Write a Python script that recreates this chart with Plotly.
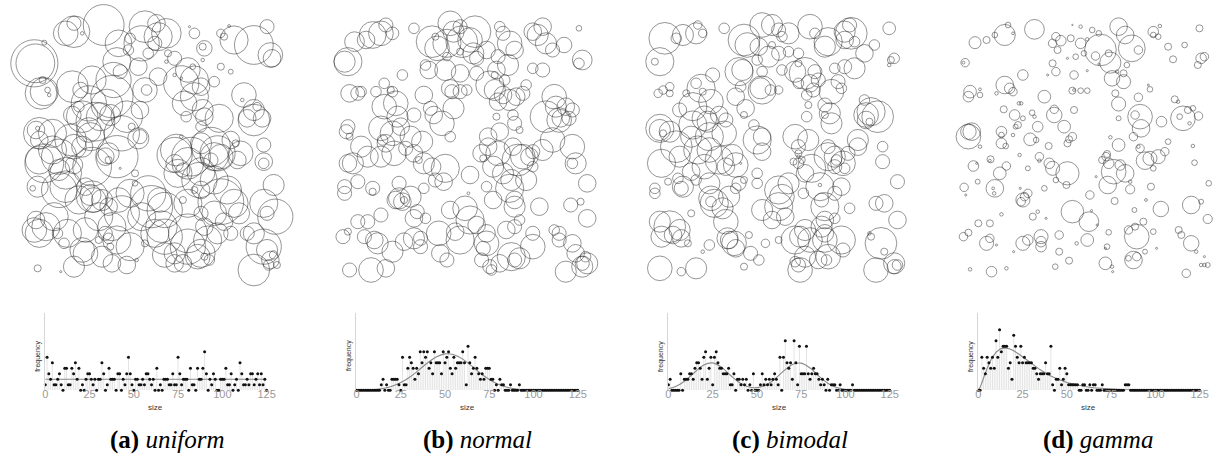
import plotly.graph_objects as go

W, H = 1222, 455

# ---------------- histogram data (frequency per size 0..125) ----------------
sizes = list(range(126))

freq_uniform = [
    1, 6, 3, 2, 5, 1, 1, 2, 3, 1,
    0, 4, 4, 1, 1, 4, 3, 5, 2, 4,
    0, 1, 0, 2, 3, 3, 2, 1, 2, 0,
    2, 2, 5, 3, 0, 1, 4, 2, 2, 2,
    0, 3, 3, 0, 2, 1, 3, 6, 3, 1,
    0, 2, 2, 1, 1, 2, 1, 3, 3, 2,
    1, 2, 0, 4, 0, 1, 0, 2, 2, 2,
    1, 1, 3, 1, 1, 6, 3, 1, 2, 2,
    2, 0, 4, 1, 1, 0, 4, 2, 2, 4,
    7, 3, 0, 2, 1, 3, 2, 0, 0, 2,
    2, 2, 4, 1, 1, 3, 0, 1, 2, 0,
    5, 3, 1, 1, 2, 1, 3, 3, 1, 2,
    3, 1, 3, 1, 2, 0]

freq_normal = [
    0, 0, 0, 0, 0, 0, 0, 0, 0, 0,
    0, 0, 0, 0, 1, 2, 0, 1, 0, 0,
    2, 2, 2, 2, 1, 0, 6, 1, 1, 4,
    6, 5, 4, 2, 4, 3, 7, 5, 7, 6,
    7, 4, 5, 3, 7, 5, 5, 5, 3, 7,
    5, 6, 7, 4, 3, 6, 4, 5, 5, 5,
    7, 5, 1, 8, 5, 3, 4, 6, 4, 3,
    2, 3, 2, 4, 4, 4, 2, 2, 0, 1,
    0, 2, 1, 1, 0, 0, 0, 1, 0, 0,
    0, 0, 1, 0, 0, 0, 0, 0, 0, 0,
    0, 0, 0, 0, 0, 0, 0, 0, 0, 0,
    0, 0, 0, 0, 0, 0, 0, 0, 0, 0,
    0, 0, 0, 0, 0, 0]

freq_bimodal = [
    1, 2, 0, 0, 0, 0, 0, 3, 0, 2,
    2, 2, 3, 3, 2, 4, 5, 5, 4, 2,
    6, 7, 2, 4, 6, 1, 6, 7, 5, 4,
    4, 3, 3, 3, 4, 1, 1, 3, 0, 2,
    2, 1, 2, 1, 2, 0, 1, 0, 3, 0,
    0, 0, 1, 3, 1, 2, 1, 2, 1, 2,
    3, 2, 1, 6, 0, 6, 9, 5, 4, 5,
    2, 9, 5, 1, 8, 3, 3, 3, 8, 3,
    2, 3, 4, 3, 3, 2, 1, 2, 1, 0,
    2, 0, 1, 1, 1, 0, 0, 1, 0, 0,
    0, 0, 0, 0, 1, 0, 0, 0, 0, 0,
    0, 0, 0, 0, 0, 0, 0, 0, 0, 0,
    0, 0, 0, 0, 0, 0]

freq_gamma = [
    0, 0, 6, 4, 3, 6, 5, 4, 6, 4,
    9, 6, 11, 7, 8, 8, 8, 4, 5, 2,
    10, 8, 6, 5, 8, 5, 6, 5, 5, 5,
    5, 4, 4, 3, 2, 3, 3, 3, 5, 3,
    3, 8, 1, 0, 2, 2, 4, 1, 2, 4,
    3, 1, 1, 1, 1, 1, 1, 0, 0, 1,
    1, 0, 0, 1, 0, 1, 1, 0, 0, 0,
    1, 0, 0, 0, 0, 0, 0, 0, 0, 0,
    0, 0, 0, 1, 1, 1, 0, 0, 0, 0,
    0, 0, 0, 0, 0, 0, 0, 0, 0, 0,
    0, 0, 0, 0, 0, 0, 0, 0, 0, 0,
    0, 0, 0, 0, 0, 0, 0, 0, 0, 0,
    0, 0, 0, 0, 0, 0]

# expected-frequency curves
curve_uniform_x = [0, 125]
curve_uniform_y = [2.0, 2.0]
curve_step_x = [0, 5, 10, 15, 20, 25, 30, 35, 40, 45, 50, 55, 60, 65, 70,
                75, 80, 85, 90, 95, 100, 105, 110, 115, 120, 125]
curve_normal_y = [0.02, 0.05, 0.14, 0.34, 0.74, 1.4, 2.37, 3.63, 4.96, 6.05,
                  6.62, 6.47, 5.67, 4.43, 3.1, 1.95, 1.09, 0.55, 0.25, 0.1,
                  0.04, 0.01, 0, 0, 0, 0]
curve_bimodal_y = [0.28, 0.82, 1.88, 3.33, 4.62, 4.98, 4.18, 2.73, 1.41, 0.64,
                   0.49, 0.94, 2.01, 3.48, 4.7, 4.94, 4.05, 2.58, 1.28, 0.5,
                   0.15, 0.04, 0.01, 0, 0, 0]
curve_gamma_x = [0, 1, 2, 3, 5, 7.5, 10, 12.5, 15, 17.5, 20, 25, 30, 35, 40,
                 45, 50, 55, 60, 65, 70, 75, 80, 90, 100, 110, 125]
curve_gamma_y = [0, 0.54, 1.38, 2.29, 4.03, 5.77, 6.92, 7.53, 7.71, 7.57, 7.2,
                 6.1, 4.87, 3.72, 2.75, 1.99, 1.42, 0.99, 0.69, 0.47, 0.32,
                 0.21, 0.14, 0.06, 0.025, 0.01, 0]

tick_vals = [0, 25, 50, 75, 100, 125]
captions = [("a", "uniform"), ("b", "normal"), ("c", "bimodal"), ("d", "gamma")]

# ---------------- circle layouts: (x, y, radius) in panel units ----------------
circles_uniform = [
    (215, 95, 45), (190, 100, 35), (215, 70, 20), (240, 100, 5), (305, 75, 58),
    (350, 130, 38), (430, 80, 45), (420, 130, 50), (470, 110, 40), (465, 70, 25),
    (495, 100, 42), (460, 130, 20), (385, 115, 15), (380, 150, 15), (440, 160, 15),
    (500, 160, 10), (565, 80, 3), (580, 100, 15), (610, 145, 22), (605, 140, 10),
    (660, 100, 12), (670, 110, 10), (685, 78, 4), (700, 120, 40), (760, 135, 55),
    (800, 80, 20), (810, 165, 35), (815, 175, 25), (660, 200, 10), (690, 215, 7),
    (125, 128, 7), (95, 190, 67), (98, 190, 55), (115, 280, 45), (120, 240, 10),
    (125, 275, 40), (135, 270, 8), (140, 285, 5), (210, 260, 45), (235, 270, 22),
    (230, 320, 15), (270, 240, 40), (335, 240, 50), (345, 185, 40), (355, 215, 20),
    (410, 200, 25), (430, 270, 35), (435, 270, 15), (415, 330, 25), (330, 290, 60),
    (315, 315, 45), (260, 310, 50), (240, 350, 45), (210, 345, 25), (295, 350, 40),
    (280, 365, 55), (325, 345, 30), (375, 350, 45), (360, 400, 50), (390, 380, 10),
    (415, 410, 20), (410, 415, 30), (105, 385, 6), (110, 400, 45), (100, 390, 25),
    (110, 420, 25), (150, 400, 40), (150, 450, 40), (205, 420, 45), (215, 440, 35),
    (260, 390, 35), (265, 410, 40), (240, 440, 30), (125, 490, 55), (110, 480, 40),
    (170, 470, 50), (190, 520, 45), (215, 495, 25), (170, 510, 30), (270, 500, 55),
    (310, 470, 25), (320, 460, 30), (345, 470, 60), (320, 480, 10), (355, 505, 3),
    (400, 520, 10), (400, 550, 8), (90, 565, 8), (105, 560, 30), (170, 570, 50),
    (190, 560, 45), (250, 560, 25), (270, 590, 45), (265, 585, 30), (275, 600, 35),
    (300, 600, 30), (230, 600, 40), (320, 620, 25), (540, 250, 50), (540, 235, 4),
    (575, 200, 8), (580, 240, 40), (580, 290, 40), (600, 260, 25), (640, 245, 15),
    (605, 180, 5), (550, 310, 35), (555, 350, 15), (605, 330, 30), (610, 350, 25),
    (600, 380, 15), (655, 355, 40), (730, 285, 35), (725, 300, 5), (760, 330, 30),
    (760, 360, 45), (740, 355, 25), (785, 355, 25), (770, 320, 12), (540, 410, 5),
    (525, 450, 45), (520, 465, 50), (560, 490, 45), (570, 470, 55), (600, 515, 40),
    (520, 490, 25), (545, 510, 20), (600, 430, 30), (630, 440, 55), (650, 460, 50),
    (640, 470, 40), (660, 470, 35), (630, 480, 20), (690, 420, 25), (705, 430, 10),
    (720, 460, 35), (710, 480, 25), (790, 435, 20), (790, 485, 25), (790, 490, 15),
    (530, 520, 40), (595, 540, 50), (580, 570, 10), (600, 570, 25), (545, 600, 10),
    (560, 610, 40), (640, 540, 40), (660, 605, 65), (680, 570, 40), (700, 610, 40),
    (715, 640, 30), (790, 610, 40), (820, 555, 30), (825, 650, 50), (800, 640, 20),
    (440, 580, 50), (475, 600, 35), (450, 620, 60), (490, 630, 50), (480, 680, 45),
    (420, 650, 40), (385, 580, 40), (350, 600, 35), (360, 640, 50), (330, 680, 40),
    (345, 720, 40), (290, 650, 40), (310, 700, 20), (320, 715, 15), (325, 740, 10),
    (290, 720, 10), (250, 690, 35), (240, 750, 35), (195, 700, 40), (165, 700, 15),
    (185, 730, 15), (130, 680, 40), (95, 690, 35), (110, 700, 40), (155, 650, 40),
    (100, 660, 25), (105, 805, 10), (175, 815, 3), (215, 800, 30), (250, 760, 35),
    (300, 770, 30), (330, 790, 25), (375, 795, 25), (385, 740, 40), (405, 780, 5),
    (430, 730, 10), (460, 700, 40), (490, 710, 50), (490, 765, 35), (520, 760, 30),
    (520, 790, 25), (545, 790, 25), (560, 700, 55), (560, 740, 50), (590, 770, 35),
    (600, 760, 40), (620, 720, 40), (610, 680, 25), (650, 700, 30), (640, 640, 35),
    (600, 640, 20), (610, 770, 10), (625, 780, 15), (670, 665, 25), (690, 700, 20),
    (740, 700, 20), (760, 700, 30), (790, 740, 50), (800, 750, 30), (810, 780, 25),
    (820, 765, 12), (830, 795, 10), (805, 795, 15), (760, 810, 45), (560, 210, 35),
    (520, 175, 20), (495, 185, 5), (520, 225, 5), (470, 230, 25)]

circles_normal = [
    (175, 105, 38), (120, 125, 28), (100, 185, 40), (90, 185, 30), (155, 120, 25),
    (200, 100, 35), (215, 75, 20), (235, 100, 18), (300, 85, 15), (355, 125, 45),
    (370, 145, 35), (410, 70, 35), (420, 95, 30), (440, 80, 20), (485, 95, 45),
    (470, 120, 35), (445, 125, 45), (400, 130, 40), (400, 170, 12), (365, 110, 10),
    (440, 155, 10), (480, 160, 30), (490, 175, 20), (520, 150, 25), (490, 220, 20),
    (440, 220, 25), (395, 210, 30), (345, 210, 25), (335, 195, 15), (560, 80, 15),
    (570, 100, 20), (590, 130, 35), (605, 150, 25), (555, 170, 20), (585, 195, 30),
    (550, 210, 25), (545, 225, 10), (575, 240, 15), (530, 255, 40), (545, 270, 30),
    (570, 285, 25), (555, 305, 25), (660, 95, 25), (675, 105, 30), (690, 80, 25),
    (700, 130, 30), (720, 150, 20), (755, 135, 22), (800, 85, 8), (810, 180, 28),
    (800, 190, 15), (660, 205, 15), (690, 210, 20), (640, 255, 15), (630, 280, 20),
    (610, 290, 25), (265, 225, 15), (210, 250, 15), (235, 275, 15), (230, 270, 10),
    (105, 280, 25), (130, 280, 20), (140, 275, 15), (185, 275, 15), (210, 320, 35),
    (245, 310, 35), (250, 350, 30), (300, 345, 20), (330, 285, 25), (350, 325, 20),
    (360, 345, 25), (410, 265, 25), (415, 275, 20), (440, 275, 20), (460, 270, 15),
    (420, 325, 30), (385, 370, 35), (410, 410, 15), (550, 350, 10), (590, 300, 30),
    (600, 345, 15), (605, 370, 20), (620, 390, 10), (560, 395, 25), (525, 410, 25),
    (700, 350, 45), (725, 290, 35), (730, 320, 30), (760, 320, 25), (780, 330, 20),
    (745, 355, 25), (740, 360, 35), (770, 355, 20), (100, 380, 20), (95, 395, 20),
    (105, 410, 10), (140, 440, 30), (200, 385, 35), (205, 420, 15), (215, 430, 25),
    (235, 400, 35), (260, 380, 25), (290, 410, 30), (325, 425, 30), (275, 445, 20),
    (300, 460, 25), (315, 480, 10), (330, 490, 30), (355, 500, 25), (240, 460, 35),
    (200, 470, 30), (160, 470, 30), (115, 490, 30), (100, 490, 25), (395, 505, 40),
    (390, 545, 25), (365, 540, 20), (505, 460, 25), (510, 475, 10), (525, 440, 25),
    (555, 460, 35), (540, 500, 30), (570, 520, 30), (600, 440, 25), (615, 480, 45),
    (630, 470, 35), (650, 470, 25), (660, 500, 15), (660, 455, 20), (690, 450, 30),
    (720, 420, 35), (780, 440, 35), (790, 490, 30), (780, 490, 15), (595, 540, 30),
    (590, 565, 40), (640, 540, 30), (470, 525, 25), (465, 580, 4), (520, 560, 15),
    (825, 550, 25), (90, 560, 20), (90, 580, 20), (130, 545, 20), (175, 565, 20),
    (175, 575, 10), (255, 550, 20), (255, 595, 30), (265, 605, 25), (270, 600, 10),
    (245, 600, 25), (290, 590, 30), (330, 565, 15), (455, 625, 35), (410, 630, 25),
    (470, 660, 40), (490, 675, 25), (440, 720, 40), (425, 695, 25), (375, 700, 35),
    (540, 600, 25), (605, 600, 25), (605, 620, 30), (680, 620, 25), (775, 615, 20),
    (805, 605, 10), (825, 655, 25), (200, 645, 20), (160, 665, 20), (130, 665, 20),
    (85, 710, 20), (100, 695, 10), (150, 710, 20), (180, 720, 25), (190, 730, 30),
    (235, 755, 30), (270, 725, 25), (300, 715, 30), (310, 635, 20), (300, 655, 25),
    (335, 655, 15), (320, 715, 20), (320, 740, 20), (380, 760, 25), (400, 780, 20),
    (105, 810, 20), (170, 810, 35), (215, 805, 25), (520, 700, 25), (520, 730, 35),
    (510, 745, 20), (505, 780, 20), (530, 800, 20), (535, 810, 15), (580, 690, 25),
    (605, 680, 20), (620, 660, 15), (660, 700, 20), (660, 740, 35), (595, 770, 40),
    (620, 775, 30), (605, 780, 20), (560, 790, 25), (725, 690, 15), (740, 700, 20),
    (740, 720, 20), (780, 730, 25), (790, 760, 25), (760, 815, 30), (810, 790, 20),
    (810, 800, 30), (820, 770, 15), (825, 790, 30)]

circles_bimodal = [
    (115, 115, 45), (100, 185, 40), (85, 185, 10), (150, 115, 15), (170, 105, 30),
    (210, 100, 30), (215, 75, 12), (230, 100, 12), (295, 85, 15), (355, 120, 45),
    (365, 135, 35), (400, 140, 25), (410, 75, 35), (440, 75, 30), (460, 90, 20),
    (470, 110, 15), (490, 100, 30), (440, 135, 10), (430, 170, 30), (395, 180, 15),
    (460, 160, 20), (490, 155, 15), (520, 160, 15), (555, 80, 35), (570, 100, 15),
    (600, 140, 30), (610, 125, 40), (660, 95, 30), (675, 75, 20), (680, 100, 45),
    (660, 120, 25), (690, 125, 15), (750, 135, 15), (795, 85, 18), (720, 160, 25),
    (690, 205, 30), (660, 200, 20), (630, 205, 15), (810, 175, 15), (800, 180, 10),
    (795, 195, 5), (95, 280, 12), (110, 270, 12), (130, 280, 10), (130, 260, 12),
    (180, 280, 10), (210, 250, 15), (225, 265, 40), (230, 275, 10), (255, 305, 35),
    (260, 225, 20), (200, 320, 40), (340, 215, 40), (350, 210, 30), (345, 260, 15),
    (330, 290, 25), (360, 325, 25), (355, 345, 10), (410, 270, 40), (405, 265, 30),
    (435, 270, 15), (460, 270, 12), (410, 215, 15), (470, 210, 15), (510, 215, 30),
    (520, 250, 15), (520, 190, 10), (540, 220, 45), (555, 250, 25), (545, 285, 15),
    (570, 215, 20), (580, 240, 20), (565, 270, 20), (550, 315, 10), (620, 275, 35),
    (640, 245, 20), (650, 265, 15), (600, 315, 20), (615, 340, 30), (620, 370, 30),
    (545, 350, 15), (600, 345, 10), (100, 385, 40), (100, 390, 30), (110, 400, 10),
    (130, 395, 30), (160, 330, 20), (200, 375, 40), (235, 355, 35), (245, 365, 30),
    (280, 345, 25), (300, 360, 20), (295, 400, 35), (250, 410, 40), (195, 410, 30),
    (215, 450, 40), (150, 440, 45), (160, 470, 30), (105, 490, 40), (250, 450, 35),
    (280, 480, 40), (320, 465, 30), (330, 495, 35), (345, 490, 3), (300, 500, 25),
    (235, 500, 35), (195, 515, 25), (155, 535, 15), (125, 545, 10), (385, 375, 15),
    (395, 420, 40), (410, 410, 25), (410, 455, 25), (395, 520, 15), (395, 550, 15),
    (355, 540, 10), (340, 550, 20), (510, 410, 35), (520, 440, 20), (550, 420, 30),
    (520, 460, 10), (520, 470, 5), (505, 485, 10), (520, 490, 15), (560, 505, 40),
    (540, 520, 25), (530, 480, 10), (610, 440, 20), (610, 470, 40), (630, 470, 30),
    (635, 480, 15), (630, 500, 20), (655, 490, 35), (660, 505, 15), (670, 460, 20),
    (700, 420, 30), (700, 440, 25), (725, 345, 35), (740, 335, 40), (760, 350, 45),
    (720, 300, 15), (725, 360, 25), (735, 365, 10), (775, 440, 15), (775, 485, 20),
    (820, 545, 20), (85, 565, 15), (85, 580, 15), (165, 565, 20), (170, 560, 30),
    (210, 540, 15), (250, 550, 30), (255, 595, 35), (265, 610, 40), (255, 605, 15),
    (310, 590, 30), (330, 565, 15), (290, 625, 30), (300, 665, 35), (460, 570, 40),
    (470, 590, 35), (490, 550, 30), (460, 620, 40), (410, 630, 30), (440, 660, 25),
    (480, 650, 25), (535, 580, 15), (585, 560, 40), (585, 555, 5), (590, 600, 20),
    (600, 620, 40), (630, 580, 20), (650, 560, 25), (600, 660, 25), (630, 655, 15),
    (675, 625, 15), (755, 610, 20), (780, 610, 25), (820, 660, 25), (100, 665, 30),
    (130, 680, 45), (140, 705, 25), (160, 690, 30), (165, 715, 25), (185, 730, 10),
    (105, 710, 30), (195, 640, 10), (250, 735, 15), (305, 715, 30), (310, 720, 25),
    (325, 730, 35), (330, 745, 25), (370, 705, 10), (375, 760, 20), (400, 780, 15),
    (355, 800, 10), (420, 730, 12), (460, 720, 10), (510, 720, 40), (525, 710, 30),
    (540, 690, 30), (555, 720, 35), (590, 680, 30), (600, 700, 25), (600, 720, 35),
    (650, 720, 40), (655, 750, 20), (610, 770, 35), (605, 780, 15), (580, 780, 25),
    (520, 795, 20), (510, 785, 15), (525, 810, 35), (540, 770, 30), (740, 710, 10),
    (735, 700, 5), (770, 730, 45), (755, 810, 35), (780, 755, 10), (810, 790, 30),
    (810, 800, 20), (820, 795, 15), (100, 805, 35), (165, 815, 12), (210, 805, 30),
    (230, 755, 5)]

circles_gamma = [
    (195, 75, 8), (185, 105, 30), (155, 105, 8), (130, 120, 10), (95, 128, 17),
    (210, 100, 4), (275, 88, 28), (65, 188, 12), (60, 188, 4), (340, 110, 12),
    (330, 130, 12), (355, 122, 15), (345, 150, 10), (330, 190, 10), (340, 215, 12),
    (315, 225, 3), (390, 75, 2), (385, 115, 10), (415, 80, 5), (415, 130, 15),
    (435, 118, 5), (450, 90, 8), (470, 100, 8), (475, 150, 45), (460, 168, 12),
    (500, 160, 10), (505, 188, 30), (510, 235, 22), (545, 245, 20), (525, 215, 5),
    (545, 220, 10), (520, 280, 10), (530, 80, 25), (550, 105, 25), (570, 145, 38),
    (590, 150, 12), (555, 195, 8), (635, 95, 15), (650, 110, 8), (655, 78, 5),
    (635, 105, 8), (680, 140, 10), (695, 178, 10), (730, 135, 8), (775, 85, 10),
    (780, 175, 15), (790, 170, 12), (770, 195, 10), (400, 170, 8), (425, 160, 8),
    (375, 175, 3), (435, 212, 3), (470, 192, 3), (240, 225, 15), (185, 255, 25),
    (200, 265, 15), (210, 275, 12), (160, 280, 5), (80, 275, 18), (75, 290, 15),
    (110, 268, 4), (110, 285, 8), (305, 290, 18), (390, 272, 10), (395, 270, 4),
    (415, 272, 8), (435, 272, 8), (395, 225, 12), (530, 312, 20), (590, 292, 12),
    (625, 268, 8), (620, 255, 3), (700, 298, 10), (710, 305, 5), (725, 355, 35),
    (715, 350, 8), (740, 330, 10), (755, 325, 8), (772, 348, 12), (745, 370, 5),
    (595, 350, 35), (580, 345, 12), (598, 385, 25), (575, 410, 12), (660, 365, 15),
    (680, 425, 8), (670, 455, 12), (650, 470, 20), (610, 482, 25), (625, 475, 20),
    (635, 505, 8), (595, 445, 12), (530, 435, 18), (505, 412, 5), (530, 355, 7),
    (182, 328, 10), (215, 345, 15), (240, 355, 7), (235, 310, 5), (228, 310, 5),
    (268, 338, 8), (275, 350, 5), (225, 375, 10), (218, 380, 7), (285, 380, 15),
    (335, 328, 12), (335, 345, 22), (365, 380, 18), (395, 330, 10), (210, 405, 5),
    (175, 395, 15), (175, 430, 15), (188, 438, 8), (175, 405, 8), (75, 410, 35),
    (85, 395, 25), (75, 395, 22), (110, 440, 5), (318, 438, 10), (262, 418, 18),
    (280, 420, 8), (380, 418, 10), (390, 410, 12), (375, 430, 10), (590, 440, 5),
    (755, 438, 5), (760, 488, 8), (142, 478, 10), (140, 482, 4), (90, 498, 15),
    (100, 490, 3), (190, 498, 12), (170, 520, 18), (230, 465, 5), (255, 505, 7),
    (290, 470, 12), (290, 482, 5), (320, 490, 15), (330, 505, 20), (375, 520, 33),
    (340, 540, 8), (372, 555, 10), (495, 462, 10), (492, 470, 12), (480, 480, 10),
    (500, 490, 15), (515, 515, 35), (550, 520, 25), (535, 495, 15), (462, 530, 3),
    (497, 555, 25), (565, 568, 13), (628, 560, 10), (565, 545, 5), (62, 562, 12),
    (67, 585, 3), (103, 545, 7), (155, 565, 25), (150, 565, 4), (153, 580, 5),
    (232, 565, 3), (240, 600, 20), (245, 590, 12), (255, 580, 12), (235, 605, 12),
    (305, 565, 8), (443, 585, 12), (518, 603, 10), (578, 630, 7), (613, 600, 4),
    (658, 627, 22), (750, 615, 25), (780, 605, 7), (803, 550, 8), (800, 657, 13),
    (390, 635, 32), (440, 665, 28), (448, 632, 3), (465, 675, 3), (270, 650, 10),
    (285, 635, 5), (310, 655, 3), (175, 643, 5), (105, 670, 10), (140, 670, 10),
    (60, 710, 12), (75, 698, 10), (130, 730, 20), (140, 715, 12), (160, 735, 3),
    (212, 755, 3), (240, 730, 20), (255, 720, 15), (295, 710, 20), (295, 725, 15),
    (295, 740, 15), (350, 705, 12), (403, 730, 5), (435, 720, 18), (500, 697, 8),
    (495, 740, 8), (490, 745, 3), (585, 710, 35), (560, 690, 12), (580, 680, 10),
    (605, 665, 10), (635, 695, 8), (645, 745, 3), (610, 755, 7), (560, 775, 8),
    (575, 780, 25), (585, 770, 12), (712, 690, 10), (720, 705, 10), (750, 730, 22),
    (765, 755, 5), (790, 770, 3), (780, 795, 5), (790, 795, 5), (800, 795, 7),
    (735, 820, 12), (350, 755, 10), (380, 782, 10), (338, 800, 8), (490, 790, 18),
    (510, 800, 5), (512, 815, 3), (145, 815, 15), (190, 805, 5), (80, 808, 5)]

# ---------------- layout geometry (screen px) ----------------
circle_left = [0, 315, 630, 950]
circle_width = [300, 300, 300, 272]
circle_top, circle_h = 0, 300
hist_left = [42.7, 357, 672, 985]
hist_w = 223.5
hist_top, hist_bottom = 313.3, 390.3
caption_cx = [166, 479, 795, 1106]
caption_cy = 440

def px_x(v):
    return v / W

def px_y(v):
    return 1 - v / H

circle_sets = [circles_uniform, circles_normal, circles_bimodal, circles_gamma]
freqs = [freq_uniform, freq_normal, freq_bimodal, freq_gamma]
curves = [(curve_uniform_x, curve_uniform_y), (curve_step_x, curve_normal_y),
          (curve_step_x, curve_bimodal_y), (curve_gamma_x, curve_gamma_y)]

fig = go.Figure()
layout = dict(
    width=W, height=H, margin=dict(l=0, r=0, t=0, b=0),
    paper_bgcolor="white", plot_bgcolor="rgba(0,0,0,0)",
    showlegend=False, annotations=[],
)

small_font = "Liberation Sans, Arial, sans-serif"

for i in range(4):
    # ---- circle panel ----
    cx = [c[0] for c in circle_sets[i]]
    cy = [c[1] for c in circle_sets[i]]
    cr = [c[2] for c in circle_sets[i]]
    xa, ya = f"x{i + 1}", f"y{i + 1}"
    fig.add_trace(go.Scatter(
        x=cx, y=cy, mode="markers", xaxis=xa, yaxis=ya, cliponaxis=False,
        hoverinfo="skip",
        marker=dict(symbol="circle", size=cr, sizemode="diameter", sizeref=1.42,
                    color="rgba(0,0,0,0)",
                    line=dict(color="rgba(40,40,40,0.82)", width=0.85)),
    ))
    xr = 3 * circle_width[i]
    layout[f"xaxis{i + 1}"] = dict(
        domain=[px_x(circle_left[i]), px_x(circle_left[i] + circle_width[i])],
        range=[0, xr], visible=False, anchor=ya, fixedrange=True)
    layout[f"yaxis{i + 1}"] = dict(
        domain=[px_y(circle_top + circle_h), px_y(circle_top)],
        range=[900, 0], visible=False, anchor=xa, fixedrange=True)

    # ---- histogram panel ----
    k = i + 5
    hx, hy = f"x{k}", f"y{k}"
    stem_x, stem_y = [], []
    for s, f in zip(sizes, freqs[i]):
        if f > 0:
            stem_x += [s, s, None]
            stem_y += [0, f, None]
    fig.add_trace(go.Scatter(
        x=stem_x, y=stem_y, mode="lines", xaxis=hx, yaxis=hy, hoverinfo="skip",
        line=dict(color="#e4e4e4", width=1)))
    fig.add_trace(go.Scatter(
        x=curves[i][0], y=curves[i][1], mode="lines", xaxis=hx, yaxis=hy,
        hoverinfo="skip",
        line=dict(color="#8a8a8a", width=1.1,
                  shape="spline" if i in (1, 2) else "linear")))
    fig.add_trace(go.Scatter(
        x=sizes, y=freqs[i], mode="markers", xaxis=hx, yaxis=hy,
        cliponaxis=False, hoverinfo="skip",
        marker=dict(color="#111111", size=3)))
    layout[f"xaxis{k}"] = dict(
        domain=[px_x(hist_left[i]), px_x(hist_left[i] + hist_w)],
        range=[0, 125], anchor=hy, tickvals=tick_vals,
        showgrid=False, zeroline=False, showline=False, ticks="",
        tickfont=dict(family=small_font, size=11, color="#9a9a9a"),
        ticklabelstandoff=-4, fixedrange=True)
    layout[f"yaxis{k}"] = dict(
        domain=[px_y(hist_bottom), px_y(hist_top)], range=[0, 14],
        anchor=hx, showgrid=False, zeroline=False, showticklabels=False,
        ticks="", showline=True, linecolor="#d6d6d6", linewidth=1,
        fixedrange=True)

    # axis titles
    layout["annotations"].append(dict(
        text="size", xref="paper", yref="paper",
        x=px_x(hist_left[i] + hist_w / 2), y=px_y(407),
        xanchor="center", yanchor="middle", showarrow=False,
        font=dict(family=small_font, size=8, color="#333333")))
    layout["annotations"].append(dict(
        text="frequency", xref="paper", yref="paper",
        x=px_x(hist_left[i] - 7.5), y=px_y(356), textangle=-90,
        xanchor="center", yanchor="middle", showarrow=False,
        font=dict(family=small_font, size=7, color="#333333")))
    # caption
    letter, name = captions[i]
    layout["annotations"].append(dict(
        text=f"<b>({letter})</b> <i>{name}</i>", xref="paper", yref="paper",
        x=px_x(caption_cx[i]), y=px_y(caption_cy),
        xanchor="center", yanchor="middle", showarrow=False,
        font=dict(family="Liberation Serif, Times New Roman, serif", size=25,
                  color="black")))

fig.update_layout(**layout)
fig.write_html("out.html",
               config={"displayModeBar": False},
               post_script="document.body.style.margin='0';"
                           "document.body.style.overflow='hidden';")
